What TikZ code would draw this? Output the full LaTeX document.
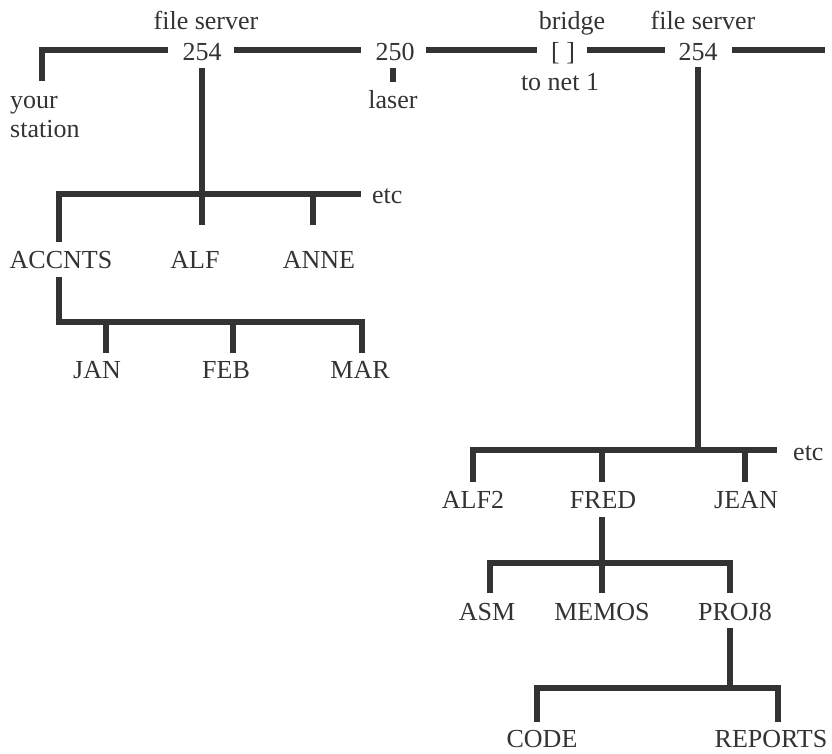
\documentclass[tikz,border=0pt]{standalone}
\usepackage{fontspec}
\setmainfont{Liberation Serif}
\definecolor{ink}{HTML}{333333}
\begin{document}
\begin{tikzpicture}[x=1pt,y=-1pt,
  lab/.style={anchor=base, inner sep=0pt, font=\fontsize{26}{30}\selectfont, text=ink},
  labw/.style={lab, anchor=base west},
  wire/.style={draw=ink, line width=6pt, line cap=butt, line join=miter}]
\useasboundingbox (0,0) rectangle (832,753);
% labels
\node[lab] (fs1) at (206,29) {file server};
\node[lab] (n254a) at (202,60) {254};
\node[lab] (n250) at (395,60) {250};
\node[lab] (bridge) at (572,29) {bridge};
\node[lab] (br) at (563,60) {[ ]};
\node[lab] (tonet) at (560,90) {to net 1};
\node[lab] (fs2) at (703,29) {file server};
\node[lab] (n254b) at (698,60) {254};
\node[labw] (your) at (10,108) {your};
\node[labw] (station) at (10,137) {station};
\node[lab] (laser) at (393,108) {laser};
\node[lab] (accnts) at (61,268) {ACCNTS};
\node[lab] (alf) at (195,268) {ALF};
\node[lab] (anne) at (319,268) {ANNE};
\node[labw] (etc1) at (372,203) {etc};
\node[lab] (jan) at (97,378) {JAN};
\node[lab] (feb) at (226,378) {FEB};
\node[lab] (mar) at (360,378) {MAR};
\node[lab] (alf2) at (473,508) {ALF2};
\node[lab] (fred) at (603,508) {FRED};
\node[lab] (jean) at (746,508) {JEAN};
\node[labw] (etc2) at (793,460) {etc};
\node[lab] (asm) at (487,620) {ASM};
\node[lab] (memos) at (602,620) {MEMOS};
\node[lab] (proj) at (735,620) {PROJ8};
\node[lab] (code) at (542,747) {CODE};
\node[lab] (reports) at (771,747) {REPORTS};
% junction / end coordinates
\coordinate (ys) at (42,81);
\coordinate (yc) at (42,50);
\coordinate (aL) at (168,50);
\coordinate (aR) at (234,50);
\coordinate (lL) at (361,50);
\coordinate (lR) at (426,50);
\coordinate (bL) at (537,50);
\coordinate (bR) at (587,50);
\coordinate (cL) at (665,50);
\coordinate (cR) at (732,50);
\coordinate (endR) at (825,50);
\coordinate (lzT) at (393,68);
\coordinate (lzB) at (393,82);
\coordinate (aD) at (202,68);
\coordinate (j1) at (202,194);
\coordinate (acT) at (59,242);
\coordinate (b1L) at (59,194);
\coordinate (b1R) at (361,194);
\coordinate (alfB) at (202,225);
\coordinate (anT) at (313,194);
\coordinate (anB) at (313,225);
\coordinate (acB) at (59,277);
\coordinate (b2L) at (59,322);
\coordinate (b2R) at (362,322);
\coordinate (marT) at (362,353);
\coordinate (janA) at (106,322);
\coordinate (janT) at (106,353);
\coordinate (febA) at (233,322);
\coordinate (febT) at (233,353);
\coordinate (cD) at (698,67);
\coordinate (j2) at (698,450);
\coordinate (alf2T) at (473,482);
\coordinate (b3L) at (473,450);
\coordinate (b3R) at (777,450);
\coordinate (frA) at (602,450);
\coordinate (frT) at (602,482);
\coordinate (jeA) at (745,450);
\coordinate (jeT) at (745,482);
\coordinate (frB) at (602,517);
\coordinate (j3) at (602,563);
\coordinate (asmT) at (490,593);
\coordinate (b4L) at (490,563);
\coordinate (b4R) at (730,563);
\coordinate (projT) at (730,593);
\coordinate (memT) at (602,593);
\coordinate (projB) at (730,628);
\coordinate (j4) at (730,688);
\coordinate (codeT) at (537,722);
\coordinate (b5L) at (537,688);
\coordinate (b5R) at (778,688);
\coordinate (repT) at (778,722);
% network line
\draw[wire] (ys) -- (yc) -- (aL);
\draw[wire] (aR) -- (lL);
\draw[wire] (lR) -- (bL);
\draw[wire] (bR) -- (cL);
\draw[wire] (cR) -- (endR);
\draw[wire] (lzT) -- (lzB);
% left tree
\draw[wire] (aD) -- (j1);
\draw[wire] (acT) -- (b1L) -- (b1R);
\draw[wire] (j1) -- (alfB);
\draw[wire] (anT) -- (anB);
\draw[wire] (acB) -- (b2L) -- (b2R) -- (marT);
\draw[wire] (janA) -- (janT);
\draw[wire] (febA) -- (febT);
% right tree
\draw[wire] (cD) -- (j2);
\draw[wire] (alf2T) -- (b3L) -- (b3R);
\draw[wire] (frA) -- (frT);
\draw[wire] (jeA) -- (jeT);
\draw[wire] (frB) -- (j3);
\draw[wire] (asmT) -- (b4L) -- (b4R) -- (projT);
\draw[wire] (j3) -- (memT);
\draw[wire] (projB) -- (j4);
\draw[wire] (codeT) -- (b5L) -- (b5R) -- (repT);
\end{tikzpicture}
\end{document}
